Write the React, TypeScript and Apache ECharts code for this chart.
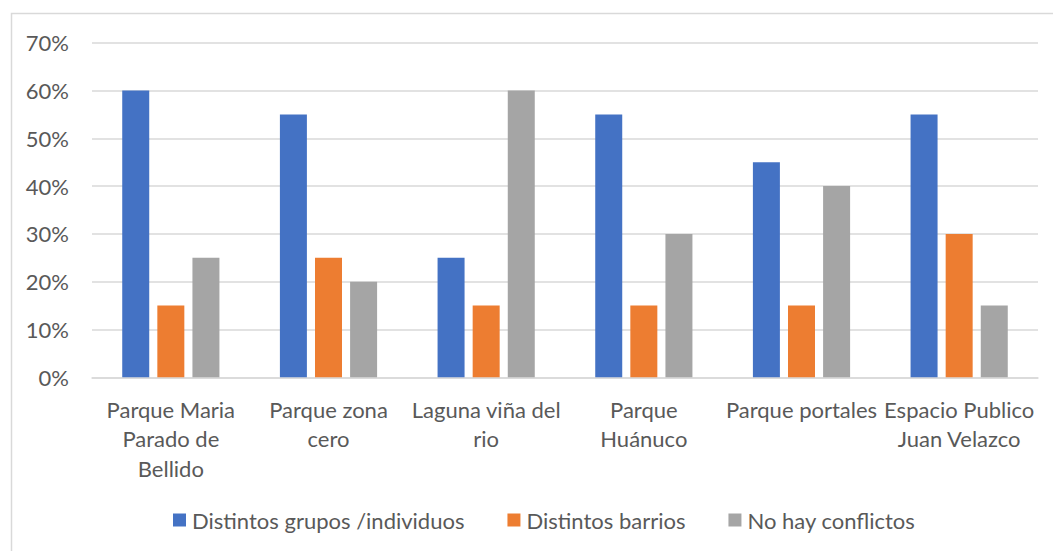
import React, { useEffect, useRef } from "react";
import * as echarts from "echarts";

const categories = [
  "Parque Maria\nParado de\nBellido",
  "Parque zona\ncero",
  "Laguna viña del\nrio",
  "Parque\nHuánuco",
  "Parque portales",
  "Espacio Publico\nJuan Velazco",
];
const seriesNames = ["Distintos grupos /individuos", "Distintos barrios", "No hay conflictos"];
const grupos = [60, 55, 25, 55, 45, 55];
const barrios = [15, 25, 15, 15, 15, 30];
const noConflictos = [25, 20, 60, 30, 40, 15];
const colors = ["#4472C4", "#ED7D31", "#A5A5A5"];

export default function App() {
  const ref = useRef<HTMLDivElement>(null);
  useEffect(() => {
    if (!ref.current) return;
    const chart = echarts.init(ref.current, undefined, { renderer: "svg" });
    const font = "Lato";
    const values = [grupos, barrios, noConflictos];
    chart.setOption({
      animation: false,
      textStyle: { fontFamily: font },
      graphic: [
        {
          type: "rect",
          shape: { x: 11.5, y: 13.5, width: 1100, height: 700 },
          style: { fill: "none", stroke: "#d9d9d9", lineWidth: 1.5 },
          silent: true,
        },
      ],
      grid: { left: 92, right: 15, top: 42.7, bottom: 173.7 },
      legend: {
        left: 168,
        top: 504,
        itemWidth: 13,
        itemHeight: 13,
        itemGap: 43,
        icon: "rect",
        textStyle: {
          fontFamily: font,
          fontSize: 22,
          lineHeight: 22,
          color: "#595959",
          padding: [0, 0, 0, 1],
        },
        data: seriesNames,
      },
      xAxis: {
        type: "category",
        data: categories,
        axisLine: { lineStyle: { color: "#d9d9d9", width: 1.5 } },
        axisTick: { show: false },
        axisLabel: {
          interval: 0,
          color: "#595959",
          fontFamily: font,
          fontSize: 22,
          lineHeight: 29.5,
          margin: 17,
        },
      },
      yAxis: {
        type: "value",
        min: 0,
        max: 70,
        interval: 10,
        axisLine: { show: false },
        axisTick: { show: false },
        splitLine: { lineStyle: { color: "#d9d9d9", width: 1.5 } },
        axisLabel: {
          formatter: "{value}%",
          color: "#595959",
          fontFamily: font,
          fontSize: 22,
          margin: 23,
        },
      },
      series: seriesNames.map((name, i) => ({
        name,
        type: "bar",
        data: values[i],
        barWidth: 27,
        barGap: "30%",
        itemStyle: { color: colors[i] },
      })),
    });
    return () => chart.dispose();
  }, []);
  return (
    <div
      ref={ref}
      style={{ position: "fixed", left: 0, top: 0, width: 1053, height: 551, background: "#fff" }}
    />
  );
}
